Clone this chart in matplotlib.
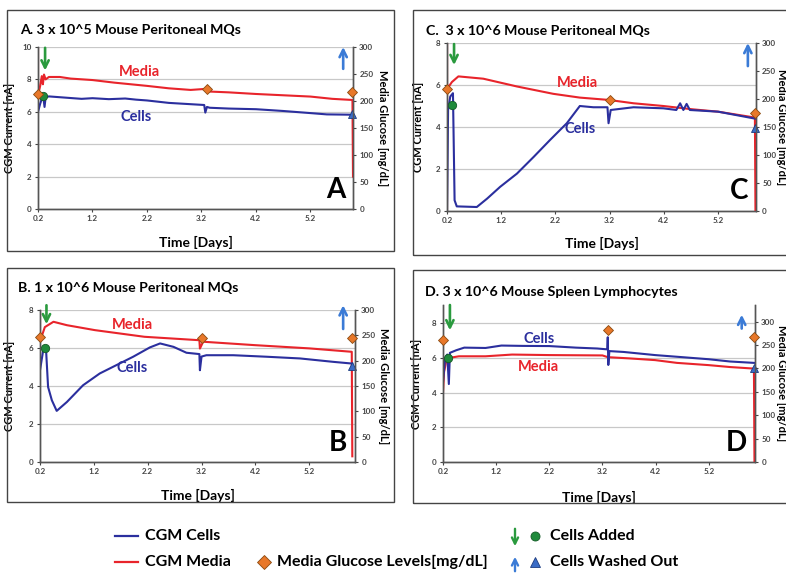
import numpy as np
import matplotlib.pyplot as plt
from matplotlib.lines import Line2D
from matplotlib.patches import Rectangle, FancyArrowPatch

plt.rcParams['font.family'] = ['Lato', 'DejaVu Sans']
plt.rcParams['font.weight'] = 'bold'

W, H = 786, 574

BLUE = '#2b2f9e'
RED = '#e8242b'
ORANGE = '#e8782a'
GREEN = '#1f8a3b'
TRI_BLUE = '#3a6cc6'
ARROW_GREEN = '#2a9a3e'
ARROW_BLUE = '#3b7bd6'

X_TICKS = [0.2, 1.2, 2.2, 3.2, 4.2, 5.2]
GLUCOSE_TICKS = [0, 50, 100, 150, 200, 250, 300]

# ---- panel A: 3 x 10^5 peritoneal MQs ----
cells_t_A = [0.2, 0.24, 0.28, 0.3, 0.32, 0.34, 0.4, 0.6, 0.8, 1.0, 1.2, 1.5, 1.8, 2.0,
             2.2, 2.6, 3.0, 3.25, 3.27, 3.3, 3.35, 3.7, 4.2, 4.7, 5.2, 5.5, 5.97]
cells_A = [6.0, 6.5, 6.9, 6.85, 6.3, 6.9, 6.95, 6.9, 6.85, 6.8, 6.84, 6.78, 6.82, 6.75,
           6.7, 6.55, 6.47, 6.42, 5.95, 6.3, 6.25, 6.2, 6.16, 6.05, 5.92, 5.84, 5.82]
media_t_A = [0.2, 0.2, 0.24, 0.27, 0.29, 0.31, 0.34, 0.4, 0.6, 0.8, 1.2, 1.6, 2.2, 2.6,
             3.0, 3.3, 3.35, 3.7, 4.2, 4.7, 5.2, 5.6, 5.97, 5.98]
media_A = [10.0, 7.0, 7.6, 8.2, 7.7, 8.3, 8.0, 8.15, 8.15, 8.05, 7.96, 7.8, 7.6, 7.45,
           7.35, 7.42, 7.25, 7.2, 7.1, 7.02, 6.94, 6.8, 6.73, 2.0]
glucose_t_A = [0.2, 3.3, 5.97]
glucose_A = [213, 222, 216]
added_A = (0.3, 7.0)
washed_A = (5.97, 5.88)

# ---- panel B: 1 x 10^6 peritoneal MQs ----
cells_t_B = [0.2, 0.26, 0.31, 0.35, 0.42, 0.51, 0.7, 1.0, 1.31, 1.62, 1.93, 2.24, 2.43,
             2.68, 2.92, 3.16, 3.17, 3.2, 3.29, 3.79, 4.41, 5.03, 5.65, 6.0]
cells_B = [4.83, 5.89, 6.03, 3.95, 3.25, 2.69, 3.16, 4.04, 4.66, 5.1, 5.54, 6.03, 6.24,
           6.06, 5.75, 5.68, 4.83, 5.55, 5.62, 5.62, 5.54, 5.45, 5.27, 5.18]
media_t_B = [0.2, 0.2, 0.23, 0.29, 0.45, 0.7, 1.22, 2.14, 3.16, 3.17, 3.23, 4.19, 5.2,
             5.99, 6.0]
media_B = [8.0, 6.5, 6.6, 7.1, 7.38, 7.2, 6.94, 6.59, 6.41, 5.97, 6.33, 6.15, 5.98,
           5.8, 0.3]
glucose_t_B = [0.2, 3.2, 6.0]
glucose_B = [246, 244, 244]
added_B = (0.3, 6.0)
washed_B = (6.0, 5.05)

# ---- panel C: 3 x 10^6 peritoneal MQs ----
cells_t_C = [0.2, 0.22, 0.26, 0.31, 0.34, 0.38, 0.75, 0.94, 1.18, 1.49, 1.8, 2.1, 2.41,
             2.65, 2.9, 3.16, 3.18, 3.22, 3.64, 4.19, 4.43, 4.5, 4.56, 4.62, 4.68, 5.2, 5.88]
cells_C = [0.0, 4.81, 5.45, 5.61, 0.51, 0.22, 0.19, 0.59, 1.15, 1.78, 2.58, 3.38, 4.18,
           5.0, 4.94, 4.94, 4.18, 4.81, 4.94, 4.89, 4.81, 5.13, 4.81, 5.1, 4.81, 4.73, 4.4]
media_t_C = [0.2, 0.2, 0.2, 0.29, 0.41, 0.87, 1.49, 2.16, 2.65, 3.18, 3.64, 4.19, 4.74,
             5.2, 5.88, 5.89]
media_C = [0.0, 8.0, 5.8, 6.14, 6.41, 6.3, 5.93, 5.58, 5.4, 5.29, 5.13, 5.0, 4.84,
           4.73, 4.45, 0.0]
glucose_t_C = [0.2, 3.2, 5.88]
glucose_C = [217, 198, 175]
added_C = (0.29, 5.05)
washed_C = (5.88, 3.94)

# ---- panel D: 3 x 10^6 spleen lymphocytes ----
cells_t_D = [0.2, 0.24, 0.28, 0.31, 0.33, 0.45, 0.6, 1.0, 1.3, 1.7, 2.2, 2.7, 3.1, 3.29,
             3.3, 3.31, 3.33, 3.6, 4.19, 4.7, 5.2, 5.6, 6.05]
cells_D = [4.6, 6.0, 6.2, 4.5, 6.3, 6.45, 6.6, 6.58, 6.72, 6.7, 6.69, 6.6, 6.55, 6.5,
           7.2, 5.6, 6.4, 6.35, 6.17, 6.05, 5.93, 5.8, 5.72]
media_t_D = [0.2, 0.22, 0.26, 0.3, 0.5, 1.0, 1.5, 2.2, 3.2, 3.3, 3.7, 4.19, 4.6, 5.2,
             5.6, 6.05, 6.06]
media_D = [4.0, 5.2, 5.8, 6.0, 6.1, 6.1, 6.2, 6.17, 6.15, 6.05, 5.98, 5.88, 5.72, 5.59,
           5.48, 5.39, 0.0]
glucose_t_D = [0.2, 3.3, 6.05]
glucose_D = [261, 282, 268]
added_D = (0.3, 6.0)
washed_D = (6.05, 5.45)


def fx(px):
    return px / W


def fy(py):
    return 1 - py / H


PANELS = [
    dict(title='A. 3 x 10^5 Mouse Peritoneal MQs', letter='A',
         ax_px=(38, 47, 353, 209), box_px=(7, 10, 394, 251), title_px=(20, 30),
         ylab_x=15, rlab_x=382, xlab_y=236, xlim=(0.2, 5.98),
         ylim=(0, 10), yticks=[0, 2, 4, 6, 8, 10], rlim=(0, 300),
         cells=(cells_t_A, cells_A), media=(media_t_A, media_A),
         glucose=(glucose_t_A, glucose_A), added=added_A, washed=washed_A,
         green_arrow=(0.33, 9.95, 8.55), blue_arrow=(5.8, 8.65, 10.0),
         media_lbl=(2.07, 8.45), cells_lbl=(2.0, 5.7)),
    dict(title='C.  3 x 10^6 Mouse Peritoneal MQs', letter='C',
         ax_px=(447, 43, 756, 211), box_px=(413, 10, 800, 255), title_px=(426, 31),
         ylab_x=424, rlab_x=782, xlab_y=237, xlim=(0.2, 5.9),
         ylim=(0, 8), yticks=[0, 2, 4, 6, 8], rlim=(0, 300),
         cells=(cells_t_C, cells_C), media=(media_t_C, media_C),
         glucose=(glucose_t_C, glucose_C), added=added_C, washed=washed_C,
         green_arrow=(0.33, 7.95, 6.95), blue_arrow=(5.75, 6.9, 8.0),
         media_lbl=(2.61, 6.1), cells_lbl=(2.65, 3.9)),
    dict(title='B. 1 x 10^6 Mouse Peritoneal MQs', letter='B',
         ax_px=(40, 310, 355, 462), box_px=(7, 268, 394, 502), title_px=(18, 288),
         ylab_x=15, rlab_x=383, xlab_y=489, xlim=(0.2, 6.05),
         ylim=(0, 8), yticks=[0, 2, 4, 6, 8], rlim=(0, 300),
         cells=(cells_t_B, cells_B), media=(media_t_B, media_B),
         glucose=(glucose_t_B, glucose_B), added=added_B, washed=washed_B,
         green_arrow=(0.32, 8.25, 7.25), blue_arrow=(5.83, 7.0, 8.25),
         media_lbl=(1.92, 7.2), cells_lbl=(1.92, 4.95)),
    dict(title='D. 3 x 10^6 Mouse Spleen Lymphocytes', letter='D',
         ax_px=(443, 305, 755, 462), box_px=(413, 270, 800, 503), title_px=(425, 292),
         ylab_x=422, rlab_x=782, xlab_y=491, xlim=(0.2, 6.07),
         ylim=(0, 9.06), yticks=[0, 2, 4, 6, 8], rlim=(0, 335.7),
         cells=(cells_t_D, cells_D), media=(media_t_D, media_D),
         glucose=(glucose_t_D, glucose_D), added=added_D, washed=washed_D,
         green_arrow=(0.33, 9.06, 7.6), blue_arrow=(5.82, 7.7, 8.5),
         media_lbl=(2.0, 5.46), cells_lbl=(2.0, 7.07)),
]


def draw_arrow(ax, x, y0, y1, color):
    ax.annotate('', xy=(x, y1), xytext=(x, y0), annotation_clip=False,
                arrowprops=dict(arrowstyle='->', color=color, lw=1.9,
                                mutation_scale=13, shrinkA=0, shrinkB=0))


def draw_panel(fig, p):
    l, t, r, b = p['ax_px']
    ax = fig.add_axes([fx(l), fy(b), (r - l) / W, (b - t) / H])
    ax2 = ax.twinx()

    bl, bt, br, bb = p['box_px']
    fig.add_artist(Rectangle((fx(bl), fy(bb)), (br - bl) / W, (bb - bt) / H,
                             transform=fig.transFigure, fill=False,
                             edgecolor='#444444', lw=1.0))
    fig.text(fx(p['title_px'][0]), fy(p['title_px'][1]), p['title'],
             fontsize=10.2, fontweight='bold', ha='left', va='center')

    ax.set_xlim(*p['xlim'])
    ax.set_ylim(*p['ylim'])
    ax2.set_ylim(*p['rlim'])
    ax.set_xticks(X_TICKS)
    ax.set_xticklabels([f'{v:.1f}' for v in X_TICKS])
    ax.set_yticks(p['yticks'])
    ax2.set_yticks(GLUCOSE_TICKS)
    ax.grid(axis='y', color='#c8c8c8', lw=0.9)
    ax.set_axisbelow(True)
    for a in (ax, ax2):
        a.tick_params(labelsize=5.8, length=2.5, width=0.8, colors='#444444', pad=2)
        a.spines['top'].set_visible(False)
        for s in ('left', 'right', 'bottom'):
            a.spines[s].set_color('#555555')
            a.spines[s].set_linewidth(1.0)

    ax.plot(*p['media'], color=RED, lw=1.5, zorder=3)
    ax.plot(*p['cells'], color=BLUE, lw=1.5, zorder=4)
    ax2.plot(*p['glucose'], ls='none', marker='D', ms=5, mfc=ORANGE, mec='#8a4a10',
             mew=0.6, clip_on=False, zorder=5)
    ax.plot(*p['added'], ls='none', marker='o', ms=6, mfc=GREEN, mec='#145a26',
            mew=0.6, clip_on=False, zorder=6)
    ax.plot(*p['washed'], ls='none', marker='^', ms=5.5, mfc=TRI_BLUE, mec='#1c3c80',
            mew=0.6, clip_on=False, zorder=6)
    ax2.set_zorder(ax.get_zorder() + 1)
    ax2.patch.set_visible(False)

    draw_arrow(ax, p['green_arrow'][0], p['green_arrow'][1], p['green_arrow'][2], ARROW_GREEN)
    draw_arrow(ax, p['blue_arrow'][0], p['blue_arrow'][1], p['blue_arrow'][2], ARROW_BLUE)

    ax.text(*p['media_lbl'], 'Media', color=RED, fontsize=10.5, fontweight='bold',
            ha='center', va='center')
    ax.text(*p['cells_lbl'], 'Cells', color=BLUE, fontsize=10.5, fontweight='bold',
            ha='center', va='center')
    ax.text(0.975, 0.04, p['letter'], transform=ax.transAxes, fontsize=20,
            fontweight='bold', ha='right', va='bottom')

    ax.set_ylabel('CGM Current [nA]', fontsize=8, fontweight='bold')
    ax.yaxis.set_label_coords((p['ylab_x'] - l) / (r - l), 0.5)
    ax2.set_ylabel('Media Glucose [mg/dL]', fontsize=8, fontweight='bold', rotation=270,
                   va='center')
    ax2.yaxis.set_label_coords((p['rlab_x'] - l) / (r - l), 0.5)
    ax.set_xlabel('Time [Days]', fontsize=10, fontweight='bold')
    ax.xaxis.set_label_coords(0.5, (b - p['xlab_y']) / (b - t))


fig = plt.figure(figsize=(W / 100, H / 100), dpi=100)
for panel in PANELS:
    draw_panel(fig, panel)

# shared legend at the bottom
fig.add_artist(Line2D([fx(115), fx(138)], [fy(536), fy(536)], color=BLUE, lw=1.6,
                      transform=fig.transFigure))
fig.add_artist(Line2D([fx(115), fx(138)], [fy(562), fy(562)], color=RED, lw=1.6,
                      transform=fig.transFigure))
fig.text(fx(145), fy(536), 'CGM Cells', fontsize=11.5, fontweight='bold', va='center')
fig.text(fx(145), fy(562), 'CGM Media', fontsize=11.5, fontweight='bold', va='center')
fig.add_artist(Line2D([fx(264)], [fy(562)], ls='none', marker='D', ms=7, mfc=ORANGE,
                      mec='#8a4a10', mew=0.6, transform=fig.transFigure))
fig.text(fx(277), fy(562), 'Media Glucose Levels[mg/dL]', fontsize=11.5,
         fontweight='bold', va='center')
fig.add_artist(FancyArrowPatch((fx(515), fy(526)), (fx(515), fy(549)),
                               transform=fig.transFigure, arrowstyle='->',
                               color=ARROW_GREEN, lw=1.7, mutation_scale=11))
fig.add_artist(FancyArrowPatch((fx(515), fy(574)), (fx(515), fy(554)),
                               transform=fig.transFigure, arrowstyle='->',
                               color=ARROW_BLUE, lw=1.7, mutation_scale=11))
fig.add_artist(Line2D([fx(535)], [fy(536)], ls='none', marker='o', ms=6.5, mfc=GREEN,
                      mec='#145a26', mew=0.6, transform=fig.transFigure))
fig.add_artist(Line2D([fx(535)], [fy(562)], ls='none', marker='^', ms=7, mfc=TRI_BLUE,
                      mec='#1c3c80', mew=0.6, transform=fig.transFigure))
fig.text(fx(550), fy(536), 'Cells Added', fontsize=11.5, fontweight='bold', va='center')
fig.text(fx(550), fy(562), 'Cells Washed Out', fontsize=11.5, fontweight='bold', va='center')

fig.savefig('out.png', dpi=100)
